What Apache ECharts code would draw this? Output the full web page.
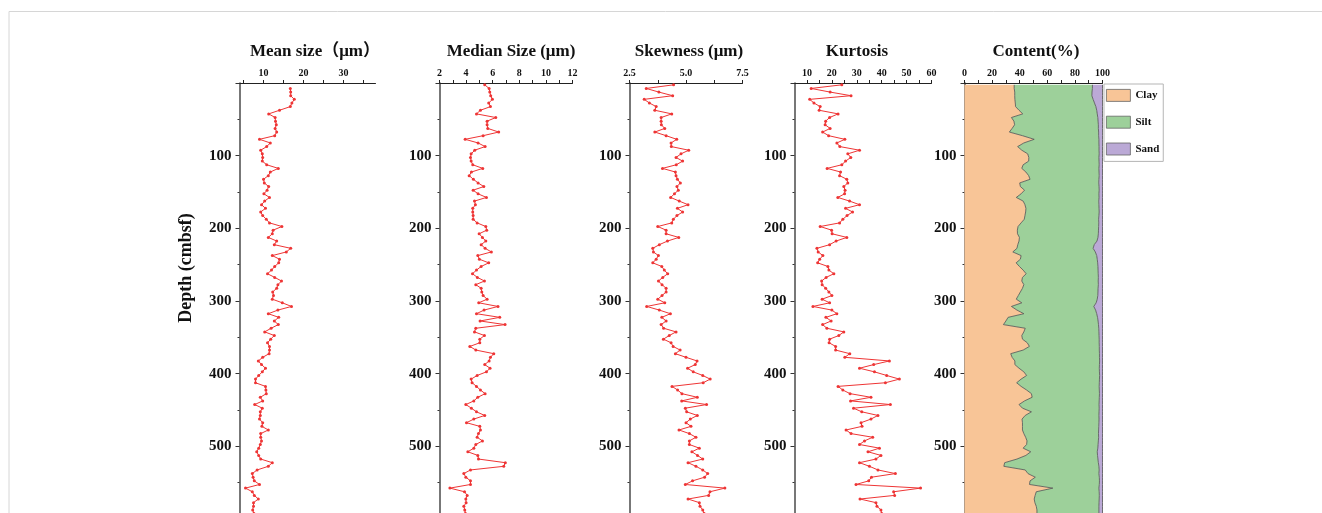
<!DOCTYPE html>
<html><head><meta charset="utf-8">
<script src="https://cdn.jsdelivr.net/npm/echarts@6/dist/echarts.min.js"></script>
<style>html,body{margin:0;padding:0;background:#fff}#c{width:1322px;height:513px}</style>
</head><body><div id="c"></div><script>
// Depth categories (cm, 5 cm bands, centres)
const depths = [
2.5,7.5,12.5,17.5,22.5,27.5,32.5,37.5,42.5,47.5,
52.5,57.5,62.5,67.5,72.5,77.5,82.5,87.5,92.5,97.5,
102.5,107.5,112.5,117.5,122.5,127.5,132.5,137.5,142.5,147.5,
152.5,157.5,162.5,167.5,172.5,177.5,182.5,187.5,192.5,197.5,
202.5,207.5,212.5,217.5,222.5,227.5,232.5,237.5,242.5,247.5,
252.5,257.5,262.5,267.5,272.5,277.5,282.5,287.5,292.5,297.5,
302.5,307.5,312.5,317.5,322.5,327.5,332.5,337.5,342.5,347.5,
352.5,357.5,362.5,367.5,372.5,377.5,382.5,387.5,392.5,397.5,
402.5,407.5,412.5,417.5,422.5,427.5,432.5,437.5,442.5,447.5,
452.5,457.5,462.5,467.5,472.5,477.5,482.5,487.5,492.5,497.5,
502.5,507.5,512.5,517.5,522.5,527.5,532.5,537.5,542.5,547.5,
552.5,557.5,562.5,567.5,572.5,577.5,582.5,587.5,592.5,597.5];

const meanSize = [null,
16.7,16.8,16.8,17.7,17.1,16.7,14.0,11.3,12.9,13.0,
13.2,12.9,13.3,12.8,9.0,11.7,10.8,9.3,9.7,9.8,
9.7,10.8,13.7,11.7,11.2,10.0,10.2,11.3,10.9,10.1,
11.5,10.3,9.5,10.5,9.3,9.8,10.7,11.5,14.6,12.4,
12.2,11.2,13.3,12.7,16.8,15.7,12.2,14.0,13.8,12.8,
12.0,11.0,12.8,14.5,13.6,13.3,12.3,12.5,12.2,14.7,
17.0,13.6,11.2,13.8,12.7,13.7,11.9,10.3,12.7,11.8,
11.0,11.5,11.5,11.4,9.8,8.7,9.5,10.5,9.7,8.8,
8.0,8.0,10.5,10.6,10.7,9.2,9.8,7.8,9.7,9.2,
9.2,9.0,9.8,9.6,11.2,9.3,9.3,9.5,9.2,8.8,
8.3,8.8,9.3,12.2,11.2,8.4,7.2,7.4,7.7,9.0,
5.5,7.2,7.7,8.7,7.5,7.5,7.3,7.6];

const medianSize = [5.4,
5.73,5.78,5.85,
5.98,5.70,5.83,5.08,4.78,6.23,5.58,5.58,5.63,6.45,
5.28,3.93,4.9,5.43,4.65,4.38,4.33,4.38,4.5,5.25,
4.4,4.23,4.55,4.9,5.33,4.53,4.9,5.53,4.63,4.7,
4.5,4.5,4.53,4.53,4.83,5.48,5.55,4.98,5.23,5.48,
5.13,5.43,5.9,4.88,5.0,5.7,5.13,4.78,4.48,4.85,
5.38,4.73,5.13,5.18,5.28,5.58,4.95,6.4,5.35,4.78,
6.53,5.05,6.93,4.73,4.63,5.38,5.03,5.03,4.28,4.73,
6.08,5.83,5.73,5.4,5.8,5.53,4.83,4.38,4.45,4.78,
5.08,5.43,4.88,4.58,3.98,4.4,4.78,5.4,4.58,4.03,
5.03,5.08,4.93,4.83,5.23,4.73,4.58,4.13,4.88,4.93,
6.95,6.83,4.33,3.83,3.98,4.33,4.33,2.78,3.88,4.08,
3.98,4.0,3.83,3.9,3.95];

const skewness = [4.45,
3.24,3.8,4.41,3.15,3.38,3.68,3.62,4.37,3.9,3.9,
3.91,4.06,3.62,4.12,4.59,4.34,4.35,5.12,4.78,4.56,
4.85,4.57,3.96,4.53,4.56,4.62,4.75,4.6,4.66,4.49,
4.32,4.7,5.09,4.62,4.85,4.6,4.44,4.37,3.75,4.12,
4.12,4.68,4.18,3.82,3.53,3.56,3.78,3.68,3.53,3.93,
4.04,4.19,3.97,3.78,3.94,4.12,4.12,3.94,3.75,4.06,
3.26,3.82,4.31,3.93,4.12,3.9,4.01,4.56,4.26,4.0,
4.34,4.43,4.74,4.53,5.0,5.49,5.41,5.07,5.32,5.74,
6.07,5.76,4.38,4.63,4.82,5.5,4.81,5.91,4.97,5.03,
5.5,5.19,5.0,5.22,4.69,5.15,5.44,5.15,5.15,5.59,
5.26,5.51,5.74,5.09,5.44,5.74,5.96,5.82,5.29,4.97,
6.72,6.06,6.0,5.09,5.59,5.62,5.74,5.8];

const kurtosis = [24,
11.7,19.3,27.7,11.1,12.8,15.3,14.9,22.5,19.1,17.5,
17.3,19.3,16.3,18.7,25.2,22.0,23.2,31.1,26.4,27.6,
25.5,24.0,18.1,23.5,23.1,26.0,26.4,24.8,25.3,25.1,
22.4,27.1,31.1,25.5,28.3,26.1,24.4,23.1,15.3,19.9,
20.1,26.0,21.7,19.1,14.0,14.5,16.4,15.1,14.3,18.4,
18.8,20.8,17.7,15.9,16.1,17.5,18.8,20.0,16.1,19.1,
12.4,20.0,22.0,17.6,19.7,16.3,18.0,24.8,22.8,19.1,
18.9,21.5,21.5,27.2,25.2,43.1,36.8,31.1,37.1,42.0,
47.1,41.5,22.5,24.4,27.3,35.7,27.5,43.5,28.7,32.0,
38.5,35.7,31.7,32.1,25.7,27.7,36.4,33.1,31.1,39.1,
34.5,39.7,37.7,31.1,35.1,38.5,45.5,35.9,34.8,29.7,
55.6,44.8,45.2,31.3,37.7,38.1,39.7,40];

const clay = [36,
36,36.4,36.4,36.5,36.8,37,39.5,42.2,34,35.8,
36.3,34.5,32.5,42,50.5,43,38.5,41.5,45.8,46.6,
46.5,42.5,41.5,44.5,46.5,47.5,40,40.5,43.5,41,
37.5,42.5,43.8,44.5,44.3,43.8,43.3,41,38.8,38.3,
38.4,39.8,39.5,38.6,38,35,41,40.5,37.4,39.8,
42.5,44.7,42,41.5,43,42,40.5,39,37.5,41.5,
34,38,43,31.6,30,28.2,44,43,41.5,42,
45.5,47,42.5,33.5,34.5,36.5,36.5,39.5,43,45,
41,37.8,41,45,48.5,49,43.5,39.5,42,48.5,
44,41.7,42,42,42,43,44.3,45.3,45,42.5,
48,44.5,38,29.1,28.5,44,46,51.3,47.5,47.1,
64,52,51.2,50.5,51,52,52.5,52.5];

const silt = [56.7,
56.7,56.0,55.9,56.7,57.4,58.2,56.3,54.0,62.6,61.0,
60.7,62.5,64.7,55.2,46.9,54.4,59.0,56.0,51.8,50.8,
51.0,55.1,55.9,53.0,51.1,49.9,57.3,57.0,54.1,56.4,
60.0,54.8,53.6,53.0,53.3,53.6,53.9,56.3,58.4,58.8,
58.6,56.9,56.5,55.4,55.2,59.8,54.8,55.7,59.1,56.9,
54.3,52.2,55.0,55.4,54.0,54.8,56.2,57.6,58.7,53.9,
59.7,57.0,52.8,64.8,66.8,68.9,53.3,54.4,56.0,55.6,
52.1,50.7,55.2,64.3,63.3,61.4,61.3,58.2,54.8,52.9,
56.8,59.9,56.6,52.7,49.3,48.7,54.1,58.0,55.6,49.0,
53.4,55.8,55.4,55.3,55.2,54.1,52.9,51.7,51.8,54.1,
48.2,51.9,58.7,67.9,68.9,53.6,51.4,46.4,50.3,50.6,
33.4,45.6,46.5,47.1,46.5,45.4,44.9,44.9];

const sand = [7.3,
7.3,7.6,7.7,6.8,5.8,4.8,4.2,3.8,3.4,3.2,
3.0,3.0,2.8,2.8,2.6,2.6,2.5,2.5,2.4,2.6,
2.5,2.4,2.6,2.5,2.4,2.6,2.7,2.5,2.4,2.6,
2.5,2.7,2.6,2.5,2.4,2.6,2.8,2.7,2.8,2.9,
3.0,3.3,4.0,6.0,6.8,5.2,4.2,3.8,3.5,3.3,
3.2,3.1,3.0,3.1,3.0,3.2,3.3,3.4,3.8,4.6,
6.3,5.0,4.2,3.6,3.2,2.9,2.7,2.6,2.5,2.4,
2.4,2.3,2.3,2.2,2.2,2.1,2.2,2.3,2.2,2.1,
2.2,2.3,2.4,2.3,2.2,2.3,2.4,2.5,2.4,2.5,
2.6,2.5,2.6,2.7,2.8,2.9,2.8,3.0,3.2,3.4,
3.8,3.6,3.3,3.0,2.6,2.4,2.6,2.3,2.2,2.3,
2.6,2.4,2.3,2.4,2.5,2.6,2.6,2.6];

// Tick labels
const depthLabels = [100,200,300,400,500];
const meanLabels = [10,20,30];
const meanTicks = [5,10,15,20,25,30,35];
const kurtLabels = [10,20,30,40,50,60];
const kurtTicks = [10,15,20,25,30,35,40,45,50,55,60];
const panelTitles = ['Mean size（μm）','Median Size (μm)','Skewness (μm)','Kurtosis','Content(%)'];
const yTitle = 'Depth (cmbsf)';
const legendNames = ['Clay','Silt','Sand'];

const SERIF = '"Liberation Serif","Times New Roman","Noto Sans CJK SC",serif';
const RED = '#ee3535';
const gridBase = {top:83, height:436, outerBoundsMode:'none', containLabel:false};
const grids = [
  Object.assign({left:239.5, width:136}, gridBase),
  Object.assign({left:439.5, width:133}, gridBase),
  Object.assign({left:629.5, width:113}, gridBase),
  Object.assign({left:794.5, width:137}, gridBase),
  Object.assign({left:964.5, width:138}, gridBase)
];
const titleX = [315, 511, 689, 857, 1036];

const xLabelStyle = {fontFamily:SERIF, fontWeight:'bold', fontSize:10, color:'#111', margin:5};
const xLine = {show:true, lineStyle:{color:'#222', width:1}};
const xTick = {show:true, inside:false, length:3, lineStyle:{color:'#222', width:1}};
const xMinor = {show:true, splitNumber:2, length:3, lineStyle:{color:'#222', width:1}};

const xAxes = [
  {gridIndex:0, type:'value', position:'top', min:4, max:38,
   axisLine:xLine, axisTick:Object.assign({customValues:meanTicks}, xTick),
   axisLabel:Object.assign({customValues:meanLabels}, xLabelStyle), splitLine:{show:false}},
  {gridIndex:1, type:'value', position:'top', min:2, max:12, interval:2,
   axisLine:xLine, axisTick:xTick, minorTick:xMinor, axisLabel:xLabelStyle, splitLine:{show:false}},
  {gridIndex:2, type:'value', position:'top', min:2.5, max:7.5, interval:2.5,
   axisLine:xLine, axisTick:xTick, minorTick:xMinor,
   axisLabel:Object.assign({formatter:v=>v.toFixed(1)}, xLabelStyle), splitLine:{show:false}},
  {gridIndex:3, type:'value', position:'top', min:5, max:60,
   axisLine:xLine, axisTick:Object.assign({customValues:kurtTicks}, xTick),
   axisLabel:Object.assign({customValues:kurtLabels}, xLabelStyle), splitLine:{show:false}},
  {gridIndex:4, type:'value', position:'top', min:0, max:100, interval:20,
   axisLine:xLine, axisTick:xTick, minorTick:xMinor, axisLabel:xLabelStyle, splitLine:{show:false}}
];

const yAxes = [];
for (let p = 0; p < 5; p++) {
  yAxes.push({gridIndex:p, type:'value', inverse:true, min:0, max:600, interval:100, position:'left',
    axisLine:{show:true, lineStyle:{color:'#4a4a4a', width:1.5}},
    axisTick:{show:true, length:4, lineStyle:{color:'#333', width:1}},
    minorTick:{show:true, splitNumber:2, length:2, lineStyle:{color:'#333', width:1}},
    axisLabel:{customValues:depthLabels, fontFamily:SERIF, fontWeight:'bold', fontSize:15, color:'#111', margin:8},
    splitLine:{show:false}});
  yAxes.push({gridIndex:p, type:'category', inverse:true, boundaryGap:true, data:depths, show:false});
}

function lineSeries(p, data) {
  return {type:'line', xAxisIndex:p, yAxisIndex:2*p+1, data:data,
    symbol:'circle', symbolSize:3, showSymbol:true, showAllSymbol:true, connectNulls:false,
    itemStyle:{color:RED}, lineStyle:{color:RED, width:1}, animation:false, clip:true};
}
function areaSeries(name, data, color) {
  return {type:'line', name:name, stack:'content', xAxisIndex:4, yAxisIndex:9, data:data,
    symbol:'none', color:color, itemStyle:{color:color},
    lineStyle:{color:'#505050', width:0.8}, areaStyle:{color:color, opacity:1},
    animation:false, clip:true};
}

const graphics = [
  {type:'line', shape:{x1:9, y1:11.5, x2:1322, y2:11.5}, style:{stroke:'#d6d6d6', lineWidth:1}},
  {type:'line', shape:{x1:9, y1:11.5, x2:9, y2:513}, style:{stroke:'#d6d6d6', lineWidth:1}},
  {type:'text', x:186, y:268, rotation:Math.PI/2,
   style:{text:yTitle, font:'bold 18px ' + SERIF, fill:'#111', align:'center', verticalAlign:'middle'}}
];
panelTitles.forEach((t, i) => {
  graphics.push({type:'text', x:titleX[i], y:52,
    style:{text:t, font:'bold 17px ' + SERIF, fill:'#111', align:'center', verticalAlign:'middle'}});
});

const option = {
  animation:false,
  backgroundColor:'#fff',
  grid:grids,
  xAxis:xAxes,
  yAxis:yAxes,
  legend:{data:legendNames.map(n=>({name:n, icon:'rect'})), orient:'vertical', left:1104, top:84,
    itemWidth:24, itemHeight:12, itemGap:14, padding:[5,4,6,2],
    borderColor:'#b5b5b5', borderWidth:1, backgroundColor:'#fff',
    itemStyle:{borderColor:'#666', borderWidth:0.8},
    textStyle:{fontFamily:SERIF, fontWeight:'bold', fontSize:11, color:'#111'},
    selectedMode:false},
  graphic:graphics,
  series:[
    lineSeries(0, meanSize),
    lineSeries(1, medianSize),
    lineSeries(2, skewness),
    lineSeries(3, kurtosis),
    areaSeries('Clay', clay, '#f8c597'),
    areaSeries('Silt', silt, '#9dd09a'),
    areaSeries('Sand', sand, '#bba9d6')
  ]
};
const chart = echarts.init(document.getElementById('c'), null, {renderer:'canvas'});
chart.setOption(option);
</script></body></html>
